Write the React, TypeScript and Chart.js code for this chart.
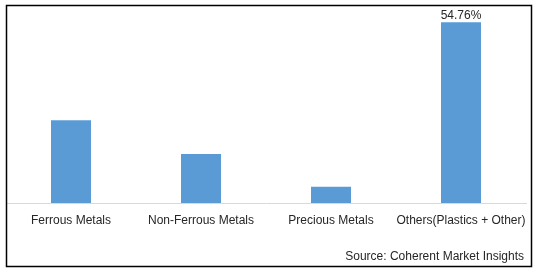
import React, { useEffect, useRef } from "react";
import { Chart, registerables } from "chart.js";

Chart.register(...registerables);

const categories = ["Ferrous Metals", "Non-Ferrous Metals", "Precious Metals", "Others(Plastics + Other)"];
const shares = [25.1, 14.85, 4.9, 54.76];
const labelIndex = 3;
const sourceText = "Source: Coherent Market Insights";

const FONT = "'Liberation Sans', Arial, sans-serif";

const decorPlugin = {
  id: "decor",
  afterDraw(chart: any) {
    const ctx = chart.ctx;
    ctx.save();
    const meta = chart.getDatasetMeta(0);
    const bar = meta.data[labelIndex];
    ctx.fillStyle = "#262626";
    ctx.font = `12px ${FONT}`;
    ctx.textAlign = "center";
    ctx.textBaseline = "bottom";
    ctx.fillText(shares[labelIndex].toFixed(2) + "%", bar.x, bar.y - 1);
    ctx.fillStyle = "#262626";
    ctx.textAlign = "right";
    ctx.textBaseline = "middle";
    ctx.fillText(sourceText, 524, 257);
    ctx.strokeStyle = "#000000";
    ctx.lineWidth = 1.5;
    ctx.strokeRect(6.5, 5.5, 525, 261);
    ctx.restore();
  },
};

export default function App() {
  const ref = useRef<HTMLCanvasElement | null>(null);
  useEffect(() => {
    if (!ref.current) return;
    const chart = new Chart(ref.current, {
      type: "bar",
      data: {
        labels: categories,
        datasets: [
          {
            data: shares,
            backgroundColor: "#5b9bd5",
            barPercentage: 40 / 130,
            categoryPercentage: 1,
          },
        ],
      },
      options: {
        responsive: false,
        animation: false,
        layout: { padding: { left: 6, right: 12, top: 5, bottom: 34.6 } },
        plugins: { legend: { display: false }, tooltip: { enabled: false }, title: { display: false } },
        scales: {
          x: {
            grid: { display: false, drawTicks: false },
            border: { display: true, color: "#d9d9d9", width: 1 },
            ticks: { color: "#262626", font: { family: FONT, size: 12 }, padding: 10, maxRotation: 0, autoSkip: false },
          },
          y: { display: false, min: 0, max: 60 },
        },
      },
      plugins: [decorPlugin],
    });
    return () => chart.destroy();
  }, []);
  return (
    <div style={{ position: "fixed", left: 0, top: 0, width: 538, height: 272, background: "#fff" }}>
      <canvas ref={ref} width={538} height={272} />
    </div>
  );
}
